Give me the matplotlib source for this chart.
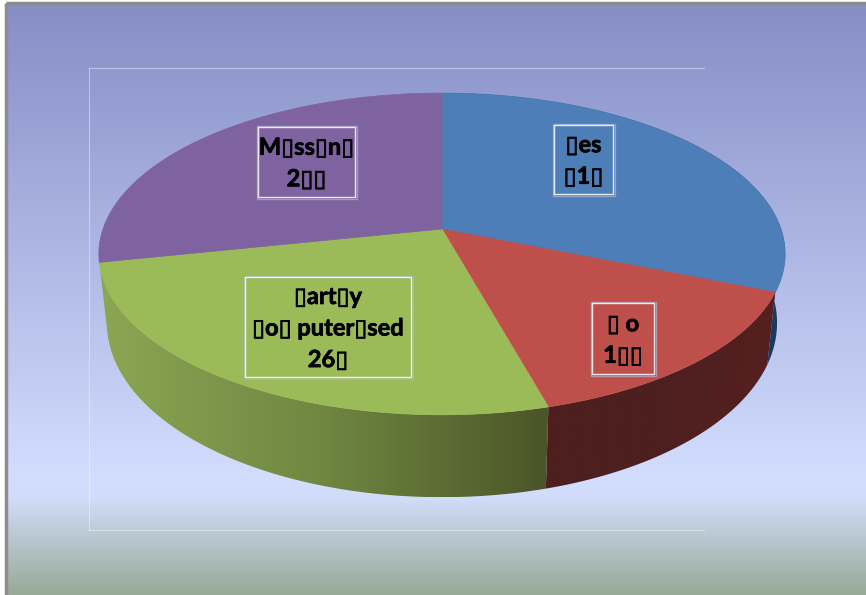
import numpy as np
import matplotlib
matplotlib.use('Agg')
import matplotlib.pyplot as plt
import matplotlib.patheffects as pe
from matplotlib.colors import LinearSegmentedColormap
from matplotlib.patches import Polygon, Rectangle

# share of each slice, clockwise from 12 o'clock
categories = ['Yes', 'No', 'Partly computerised', 'Missing']
values = [31.2, 14.5, 26.0, 28.3]
# the source file has lost its glyphs, the boxes are part of the text
labels = ['\u25afes\n\u25af1\u25af', '\u25af o\n1\u25af\u25af',
          '\u25afart\u25afy\n\u25afo\u25af puter\u25afsed\n26\u25af', 'M\u25afss\u25afn\u25af\n2\u25af\u25af']
top_colors = ['#4d7eb8', '#bf4f4b', '#9bba58', '#7f62a0']

W, H = 866, 595
fig = plt.figure(figsize=(W / 100, H / 100), dpi=100, facecolor='white')
ax = fig.add_axes([0, 0, 1, 1])
ax.set_xlim(0, W)
ax.set_ylim(H, 0)
ax.axis('off')

# background
bg = LinearSegmentedColormap.from_list('bg', [(0, '#868ec6'), (0.81, '#d3deff'), (0.84, '#d0dcf8'), (1, '#98ab98')])
ax.imshow(np.linspace(0, 1, 300).reshape(-1, 1), cmap=bg, extent=(7, W, H, 4), aspect='auto', zorder=0)
ax.add_patch(Rectangle((5.5, 2.5), W, H, fill=False, ec='#8c8c8c', lw=2.5, zorder=1))

# plot area outline
for xs, ys in [([89, 89], [68, 530]), ([89, 704], [68, 68]), ([89, 704], [530, 530])]:
    ax.plot(xs, ys, color='white', lw=0.8, alpha=0.4, zorder=1)

# perspective disc: top face and bottom rim
CX = 442
K = 0.155
TOP = dict(a=339, b=157, cy=229)
BOTTOM = dict(a=331, b=170, cy=296)


def project(theta, rim):
    X, Y = np.cos(theta), np.sin(theta)
    w = 1 + K * Y
    return CX + rim['a'] * X / w, rim['cy'] - rim['b'] * Y / w


edges = np.pi / 2 - 2 * np.pi * np.cumsum([0] + values) / 100


def arc(i, rim):
    t = np.linspace(edges[i], edges[i + 1], 200)
    return np.column_stack(project(t, rim))


# sides first, the top faces cover whatever is behind (purple side is hidden)
side_cmaps = [
    LinearSegmentedColormap.from_list('s0', ['#1c3a5c', '#1c3a5c']),
    LinearSegmentedColormap.from_list('s1', ['#55201f', '#4e1f1f', '#4e1f1f']),
    LinearSegmentedColormap.from_list('s2', ['#8ba654', '#6f8741', '#4b5528']),
]
for i in range(3):
    pts = np.vstack([arc(i, TOP), arc(i, BOTTOM)[::-1]])
    x0, x1 = pts[:, 0].min(), pts[:, 0].max()
    y0, y1 = pts[:, 1].min(), pts[:, 1].max()
    grad = np.linspace(0, 1, 300).reshape(1, -1)
    if i == 1:
        grad = grad[:, ::-1]
    im = ax.imshow(grad, cmap=side_cmaps[i], extent=(x0, x1, y1, y0), aspect='auto', zorder=2)
    im.set_clip_path(Polygon(pts, transform=ax.transData))

for i in range(4):
    pts = np.vstack([[CX, TOP['cy']], arc(i, TOP)])
    ax.add_patch(Polygon(pts, fc=top_colors[i], ec=top_colors[i], lw=0.5, zorder=3))
ax.set_xlim(0, W)
ax.set_ylim(H, 0)

# data labels
boxes = [(554, 125, 613, 194), (592, 303, 654, 374), (245, 277, 411, 377), (258, 127, 355, 197)]
for (x0, y0, x1, y1), txt in zip(boxes, labels):
    ax.add_patch(Rectangle((x0 - 1.5, y0 - 1.5), x1 - x0 + 3, y1 - y0 + 3, fill=False, ec='#a9b8d8', lw=1, alpha=0.7, zorder=4))
    ax.add_patch(Rectangle((x0, y0), x1 - x0, y1 - y0, fill=False, ec='white', lw=1, alpha=0.85, zorder=4))
    t = ax.text((x0 + x1) / 2, (y0 + y1) / 2 + 1, txt, ha='center', va='center', color='black', fontsize=17,
                fontweight='bold', family=['Lato', 'DejaVu Sans'], linespacing=1.45, zorder=5)
    t.set_path_effects([pe.withStroke(linewidth=0.5, foreground='black')])

fig.savefig('out.png', dpi=100, facecolor='white')
